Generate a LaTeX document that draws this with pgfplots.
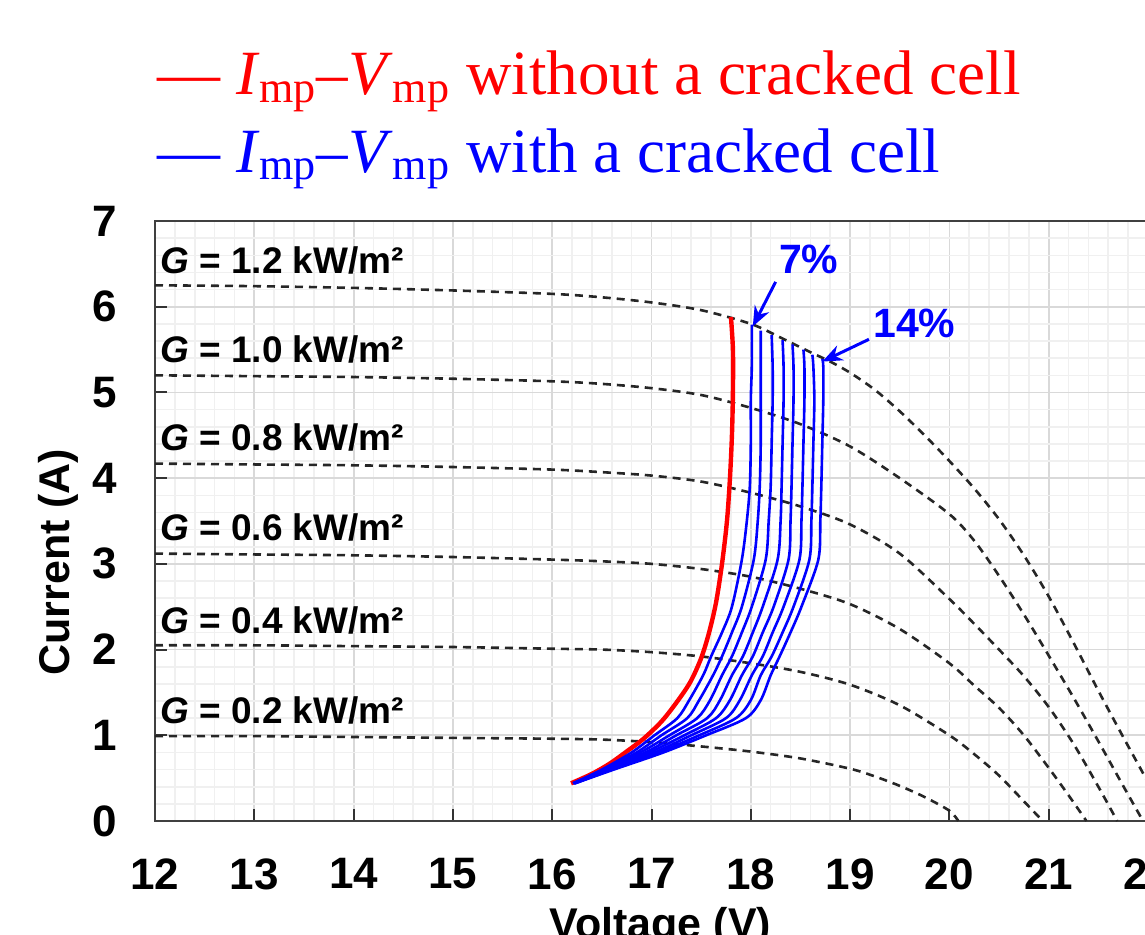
\documentclass[border=0pt]{standalone}
\usepackage{fontspec}
\setmainfont{Liberation Serif}
\setsansfont{Liberation Sans}
\usepackage{pgfplots}
\pgfplotsset{compat=1.18}
\usetikzlibrary{arrows.meta}
\begin{document}
\begin{tikzpicture}
\path[use as bounding box] (-77.5pt,-56.5pt) rectangle (495pt,410.5pt);
\clip (-77.5pt,-56.5pt) rectangle (495pt,410.5pt);
\begin{axis}[
  at={(0pt,0pt)}, anchor=south west,
  scale only axis, width=546.15pt, height=300pt,
  xmin=12, xmax=23, ymin=0, ymax=7,
  xtick={12,...,23}, ytick={0,...,7},
  minor x tick num=4, minor y tick num=4,
  grid=both,
  major grid style={draw=black!15, line width=0.9pt},
  minor grid style={draw=black!6, line width=0.8pt},
  tick pos=left, tick align=inside,
  major tick length=6pt, minor tick length=0pt,
  tick style={black!80, line width=1pt},
  axis line style={black!75, line width=1.2pt},
  /pgf/number format/assume math mode=true,
  ticklabel style={font=\sffamily\bfseries\fontsize{22}{22}\selectfont, inner sep=0pt},
  xticklabel style={anchor=north, yshift=-18.5pt},
  yticklabel style={anchor=east, xshift=-19pt},
  xlabel={Voltage (V)}, ylabel={Current (A)},
  every axis x label/.style={at={(axis cs:17.09,0)}, yshift=-58.5pt, anchor=base, inner sep=0pt, font=\sffamily\bfseries\fontsize{21.5}{21.5}\selectfont},
  every axis y label/.style={at={(axis cs:12,3.02)}, xshift=-42.5pt, rotate=90, anchor=base, inner sep=0pt, font=\sffamily\bfseries\fontsize{21.5}{21.5}\selectfont},
  dashcurve/.style={black!85, line width=1.3pt, dash pattern=on 4pt off 3pt, smooth},
  bluecurve/.style={blue, line width=1.3pt, smooth},
]
% I-V curves at different irradiance
\addplot[dashcurve] coordinates {(12,6.25)(13,6.24)(14,6.22)(15,6.19)(16,6.15)(16.5,6.11)(17,6.05)(17.5,5.96)(18,5.80)(18.3,5.64)(18.6,5.47)(18.8,5.36)(19,5.23)(19.25,5.03)(19.5,4.78)(19.75,4.50)(20,4.20)(20.25,3.88)(20.5,3.52)(20.75,3.10)(21,2.62)(21.25,2.08)(21.5,1.52)(21.75,0.98)(22,0.45)(22.2,0)};
\addplot[dashcurve] coordinates {(12,5.20)(13,5.19)(14,5.18)(15,5.16)(16,5.13)(16.5,5.10)(17,5.05)(17.5,4.97)(18,4.82)(18.5,4.63)(19,4.37)(19.5,4.00)(20,3.58)(20.25,3.27)(20.5,2.86)(20.75,2.41)(21,1.93)(21.25,1.44)(21.5,0.93)(21.75,0.41)(21.95,0)};
\addplot[dashcurve] coordinates {(12,4.17)(13,4.16)(14,4.15)(15,4.13)(16,4.10)(16.5,4.07)(17,4.03)(17.5,3.96)(18,3.83)(18.5,3.67)(19,3.46)(19.5,3.12)(20,2.59)(20.25,2.30)(20.5,2.00)(20.75,1.69)(21,1.33)(21.25,0.90)(21.5,0.40)(21.69,0)};
\addplot[dashcurve] coordinates {(12,3.12)(13,3.11)(14,3.10)(15,3.08)(16,3.05)(16.5,3.03)(17,3.00)(17.5,2.94)(18,2.85)(18.5,2.71)(19,2.53)(19.5,2.24)(20,1.84)(20.25,1.58)(20.5,1.32)(20.75,1.00)(21,0.62)(21.2,0.30)(21.38,0)};
\addplot[dashcurve] coordinates {(12,2.05)(13,2.05)(14,2.04)(15,2.03)(16,2.01)(16.5,2.00)(17,1.97)(17.5,1.92)(18,1.84)(18.5,1.74)(19,1.59)(19.5,1.35)(20,1.00)(20.25,0.78)(20.5,0.53)(20.75,0.23)(20.94,0)};
\addplot[dashcurve] coordinates {(12,0.99)(13,0.99)(14,0.98)(15,0.97)(16,0.96)(16.5,0.95)(17,0.92)(17.5,0.87)(18,0.81)(18.5,0.73)(19,0.61)(19.25,0.52)(19.5,0.41)(19.75,0.28)(20,0.12)(20.09,0)};
% Imp-Vmp without a cracked cell
\addplot[red, line width=2.2pt, smooth] coordinates {(16.19,0.44)(16.40,0.55)(16.58,0.67)(16.76,0.82)(16.92,0.96)(17.10,1.16)(17.25,1.38)(17.39,1.62)(17.50,1.90)(17.58,2.20)(17.65,2.55)(17.71,3.00)(17.76,3.50)(17.79,4.00)(17.81,4.50)(17.82,5.00)(17.82,5.50)(17.80,5.88)};
% Imp-Vmp with a cracked cell, 7% ... 14%
\addplot[bluecurve] coordinates {(16.21,0.44)(16.50,0.60)(16.80,0.80)(17.03,1.0)(17.26,1.2)(17.38,1.41)(17.52,1.7)(17.60,1.92)(17.71,2.2)(17.81,2.5)(17.91,3.05)(17.96,3.5)(17.99,3.9)(18.00,4.4)(18.00,4.91)(18.01,5.3)(18.01,5.79)};
\addplot[bluecurve] coordinates {(16.21,0.44)(16.52,0.60)(16.85,0.80)(17.10,1.0)(17.36,1.2)(17.48,1.41)(17.62,1.7)(17.71,1.92)(17.81,2.2)(17.91,2.5)(18.03,3.05)(18.07,3.5)(18.09,3.9)(18.10,4.4)(18.10,4.91)(18.10,5.3)(18.10,5.72)};
\addplot[bluecurve] coordinates {(16.22,0.44)(16.53,0.60)(16.89,0.80)(17.18,1.0)(17.46,1.2)(17.59,1.41)(17.71,1.7)(17.81,1.92)(17.91,2.2)(18.01,2.5)(18.15,3.05)(18.18,3.5)(18.20,3.9)(18.21,4.4)(18.22,4.91)(18.22,5.3)(18.21,5.67)};
\addplot[bluecurve] coordinates {(16.22,0.44)(16.55,0.60)(16.94,0.80)(17.25,1.0)(17.56,1.2)(17.69,1.41)(17.81,1.7)(17.92,1.92)(18.02,2.2)(18.12,2.5)(18.27,3.05)(18.30,3.5)(18.31,3.9)(18.32,4.4)(18.33,4.91)(18.33,5.3)(18.32,5.61)};
\addplot[bluecurve] coordinates {(16.22,0.44)(16.57,0.60)(16.98,0.80)(17.33,1.0)(17.65,1.2)(17.79,1.41)(17.91,1.7)(18.02,1.92)(18.12,2.2)(18.23,2.5)(18.38,3.05)(18.40,3.5)(18.41,3.9)(18.42,4.4)(18.43,4.91)(18.43,5.3)(18.42,5.56)};
\addplot[bluecurve] coordinates {(16.22,0.44)(16.59,0.60)(17.03,0.80)(17.40,1.0)(17.75,1.2)(17.89,1.41)(18.01,1.7)(18.12,1.92)(18.22,2.2)(18.33,2.5)(18.49,3.05)(18.51,3.5)(18.52,3.9)(18.53,4.4)(18.54,4.91)(18.54,5.3)(18.53,5.50)};
\addplot[bluecurve] coordinates {(16.23,0.44)(16.60,0.60)(17.07,0.80)(17.48,1.0)(17.85,1.2)(18.00,1.41)(18.10,1.7)(18.21,1.92)(18.32,2.2)(18.43,2.5)(18.59,3.05)(18.61,3.5)(18.62,3.9)(18.63,4.4)(18.64,4.91)(18.63,5.3)(18.62,5.44)};
\addplot[bluecurve] coordinates {(16.23,0.44)(16.62,0.60)(17.12,0.80)(17.55,1.0)(17.95,1.2)(18.10,1.41)(18.20,1.7)(18.29,1.92)(18.40,2.2)(18.51,2.5)(18.68,3.05)(18.70,3.5)(18.71,3.9)(18.72,4.4)(18.73,4.91)(18.73,5.3)(18.72,5.39)};
% irradiance labels
\begin{scope}[every node/.style={anchor=base west, inner sep=0pt, font=\sffamily\bfseries\fontsize{18.5}{18.5}\selectfont}]
\node at (axis cs:12.05,6.39) {\textit{G} = 1.2 kW/m²};
\node at (axis cs:12.05,5.35) {\textit{G} = 1.0 kW/m²};
\node at (axis cs:12.05,4.32) {\textit{G} = 0.8 kW/m²};
\node at (axis cs:12.05,3.27) {\textit{G} = 0.6 kW/m²};
\node at (axis cs:12.05,2.19) {\textit{G} = 0.4 kW/m²};
\node at (axis cs:12.05,1.14) {\textit{G} = 0.2 kW/m²};
\end{scope}
% crack percentage annotations
\node[anchor=base west, inner sep=0pt, text=blue, font=\sffamily\bfseries\fontsize{20.5}{20.5}\selectfont] at (axis cs:18.28,6.39) {7\%};
\node[anchor=base west, inner sep=0pt, text=blue, font=\sffamily\bfseries\fontsize{20.5}{20.5}\selectfont] at (axis cs:19.23,5.64) {14\%};
\draw[blue, line width=1.5pt, -{Stealth[length=10pt,width=8pt]}] (axis cs:18.25,6.29) -- (axis cs:18.02,5.77);
\draw[blue, line width=1.5pt, -{Stealth[length=10pt,width=8pt]}] (axis cs:19.19,5.62) -- (axis cs:18.72,5.36);
\end{axis}
% legend
\node[anchor=base west, inner sep=0pt, text=red, font=\fontsize{31.5}{38}\selectfont] at (1pt,363pt) {— \textit{I}\textsubscript{mp}–\textit{V}\textsubscript{mp} without a cracked cell};
\node[anchor=base west, inner sep=0pt, text=blue, font=\fontsize{31.5}{38}\selectfont] at (1pt,324.5pt) {— \textit{I}\textsubscript{mp}–\textit{V}\textsubscript{mp} with a cracked cell};
\end{tikzpicture}
\end{document}
